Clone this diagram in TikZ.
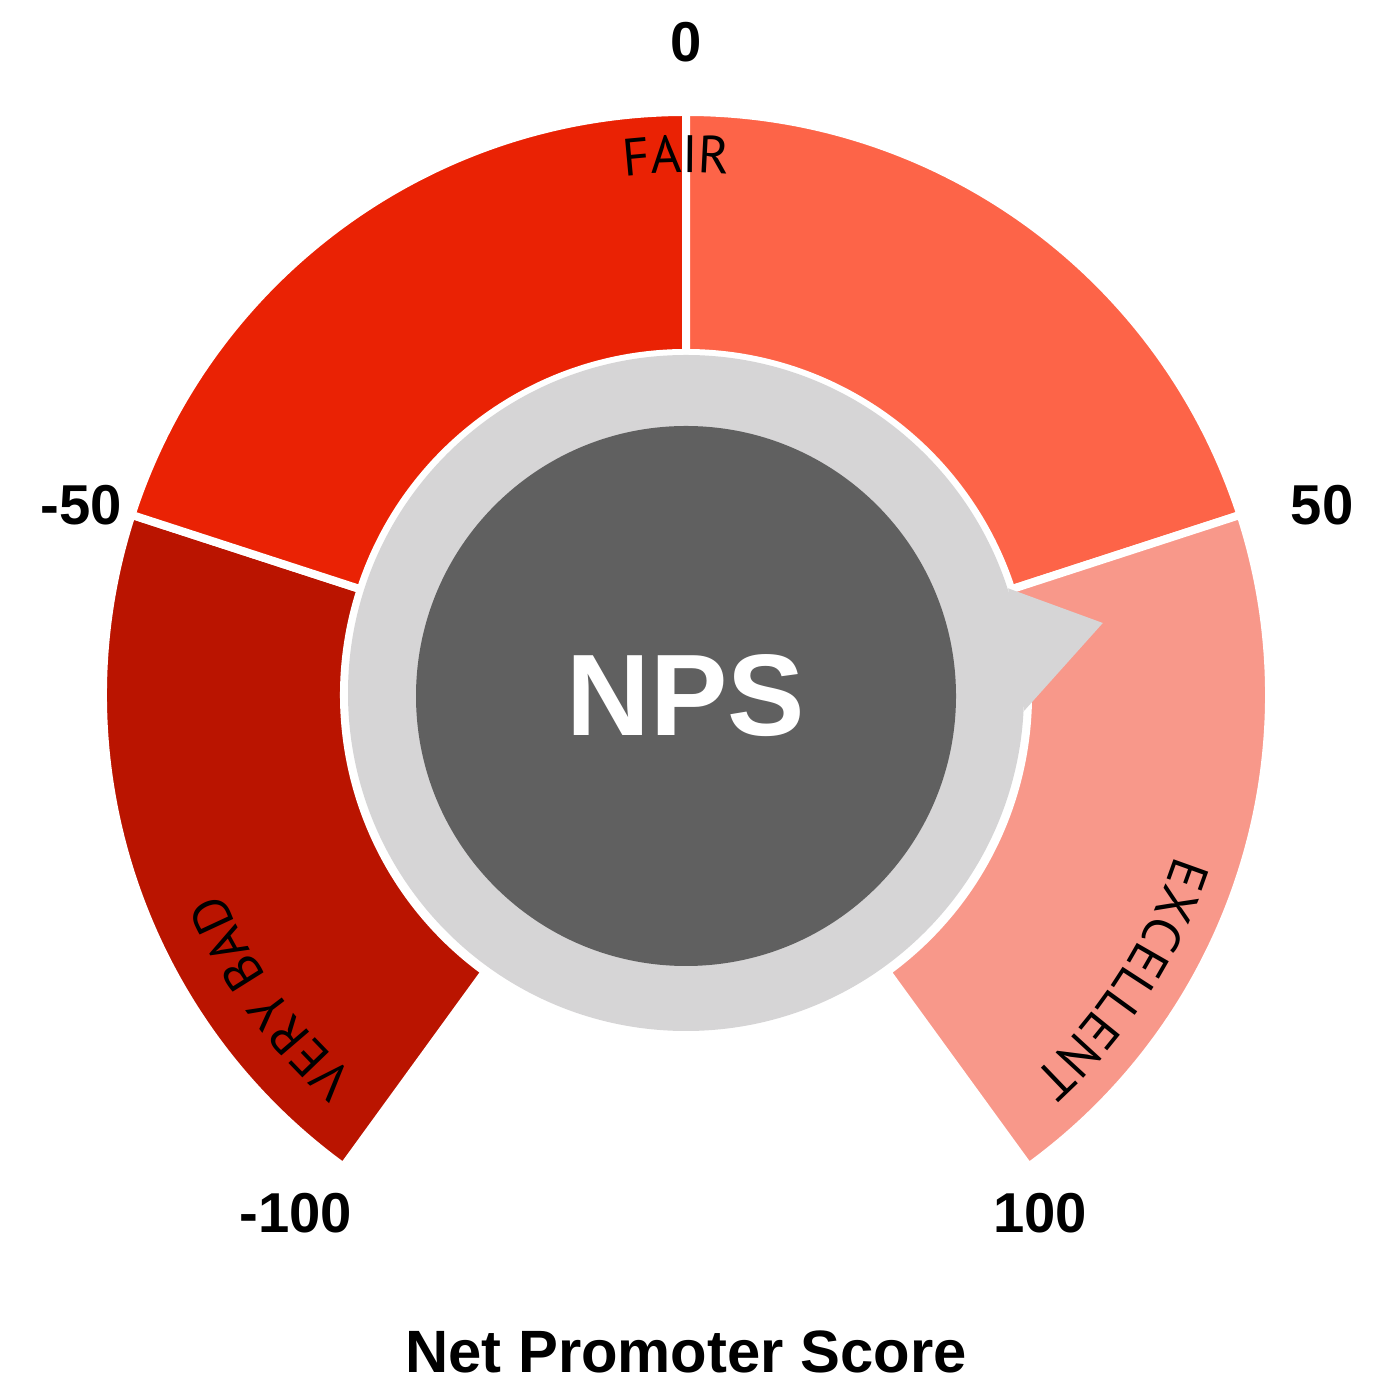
\documentclass[tikz,border=0pt]{standalone}
\usepackage{fontspec}
\setmainfont{Liberation Sans}
\newfontfamily\arcfamily{PT Sans}
\usetikzlibrary{decorations.text}

\definecolor{verybad}{RGB}{186,20,0}
\definecolor{fair}{RGB}{234,34,4}
\definecolor{good}{RGB}{253,100,72}
\definecolor{excellent}{RGB}{248,152,138}
\definecolor{ringgray}{RGB}{214,213,214}
\definecolor{npsgray}{RGB}{96,96,96}

\newcommand{\arcfont}{\arcfamily\fontsize{15}{18}\selectfont}

\begin{document}
\begin{tikzpicture}[
    segment/.style={draw=white, line width=0.08cm, line join=miter},
    scorelabel/.style={font=\fontsize{16}{19}\selectfont\bfseries, inner sep=0pt},
    titlelabel/.style={font=\fontsize{17}{20}\selectfont\bfseries, inner sep=0pt},
    ring/.style={circle, fill=ringgray, inner sep=0pt, minimum size=6.76cm},
    dial/.style={circle, fill=npsgray, inner sep=0pt, minimum size=5.4cm, text=white, font=\fontsize{33}{40}\selectfont\bfseries},
    arctext/.style={decorate, decoration={text along path, text align=center, text={#1}}}
    ]
    \useasboundingbox (-6.86,-6.89) rectangle (6.90,6.95);

    % gauge segments, 72 degrees each
    \foreach \a/\b/\c in {234/162/verybad, 162/90/fair, 90/18/good, 18/-54/excellent}
      \filldraw[segment, fill=\c] (\a:3.42) arc[start angle=\a, end angle=\b, radius=3.42]
        -- (\b:5.83) arc[start angle=\b, end angle=\a, radius=5.83] -- cycle;

    % centre with pointer
    \node[ring] (ring) at (0,0.02) {};
    \coordinate (tip) at (9.8:4.23);
    \fill[ringgray] (ring.18) -- (tip) -- (ring.-3) -- cycle;
    \node[dial] (nps) at (0,-0.01) {NPS};

    % texts on the arcs
    \path[arctext={|\arcfont|FAIR}] (101:5.22) arc[start angle=101, end angle=81, radius=5.22];
    \path[arctext={|\arcfont|VERY BAD}] (236:5.05) arc[start angle=236, end angle=196, radius=5.05];
    \path[arctext={|\arcfont|EXCELLENT}] (-13:5.15) arc[start angle=-13, end angle=-53, radius=5.15];

    % scale
    \node[scorelabel] (s0) at (0,6.53) {0};
    \node[scorelabel] (sm50) at (-6.05,1.90) {-50};
    \node[scorelabel] (s50) at (6.36,1.90) {50};
    \node[scorelabel] (sm100) at (-3.90,-5.18) {-100};
    \node[scorelabel] (s100) at (3.54,-5.18) {100};

    \node[titlelabel] (title) at (0,-6.57) {Net Promoter Score};
\end{tikzpicture}
\end{document}
